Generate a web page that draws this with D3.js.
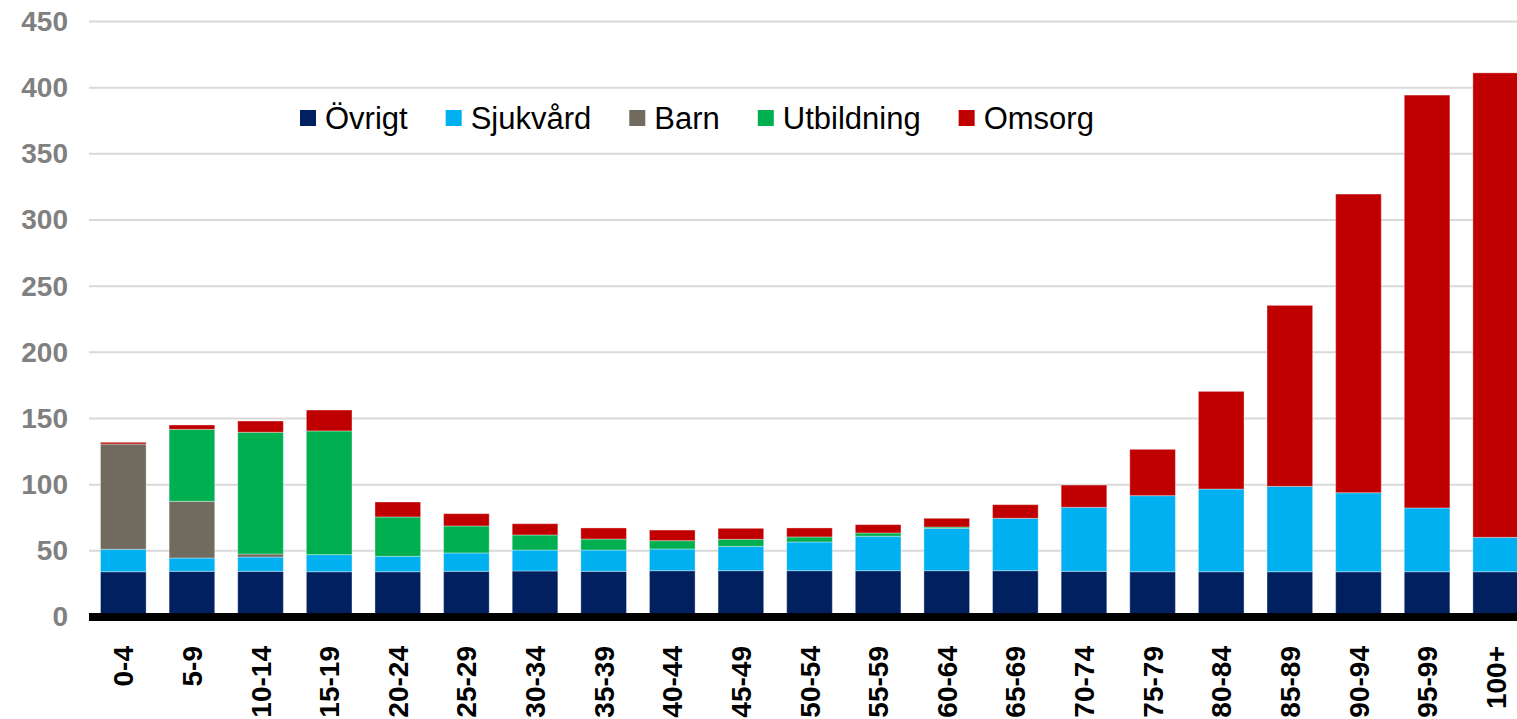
<!DOCTYPE html>
<html>
<head>
<meta charset="utf-8">
<script src="https://cdn.jsdelivr.net/npm/d3@7"></script>
<style>
  body { margin: 0; background: #fff; overflow: hidden; }
  text { font-family: "Liberation Sans", Arial, sans-serif; }
</style>
</head>
<body>
<div id="chart"></div>
<script>
// age groups
const ageGroups = ["0-4", "5-9", "10-14", "15-19", "20-24", "25-29", "30-34", "35-39", "40-44", "45-49",
  "50-54", "55-59", "60-64", "65-69", "70-74", "75-79", "80-84", "85-89", "90-94", "95-99", "100+"];

// series values
const ovrigt     = [34.2, 34.5, 34.5, 34.2, 34.2, 34.5, 34.8, 34.5, 35.0, 35.0, 35.0, 35.0, 35.0, 35.0, 34.5, 34.2, 34.2, 34.2, 34.2, 34.2, 34.2];
const sjukvard   = [17.0, 10.1, 10.8, 12.9, 11.7, 13.9, 15.8, 16.1, 16.4, 18.4, 21.7, 26.0, 32.0, 39.6, 48.4, 57.5, 62.5, 64.5, 59.7, 48.2, 26.0];
const barn       = [79.5, 42.8, 2.3, 0, 0, 0, 0, 0, 0, 0, 0, 0, 0, 0, 0, 0, 0, 0, 0, 0, 0];
const utbildning = [0, 54.4, 92.0, 93.5, 29.7, 20.4, 11.4, 8.3, 6.3, 5.3, 3.8, 2.5, 1.0, 0, 0, 0, 0, 0, 0, 0, 0];
const omsorg     = [1.3, 3.3, 8.5, 15.8, 11.3, 9.3, 8.5, 8.4, 8.0, 8.3, 6.8, 6.3, 6.6, 10.3, 16.8, 35.0, 73.8, 136.8, 225.7, 312.0, 351.0];

const seriesNames = ["Övrigt", "Sjukvård", "Barn", "Utbildning", "Omsorg"];
const seriesColors = ["#002060", "#00b0f0", "#716b5f", "#00b050", "#c00000"];
const yTicks = [0, 50, 100, 150, 200, 250, 300, 350, 400, 450];

const svgWidth = 1517;
const svgHeight = 719;

const svg = d3.select("#chart")
  .append("svg")
  .attr("width", svgWidth)
  .attr("height", svgHeight);

// build table for the stack
const keys = ["ovrigt", "sjukvard", "barn", "utbildning", "omsorg"];
const table = ageGroups.map((g, i) => ({
  group: g,
  ovrigt: ovrigt[i],
  sjukvard: sjukvard[i],
  barn: barn[i],
  utbildning: utbildning[i],
  omsorg: omsorg[i]
}));

const stacked = d3.stack().keys(keys)(table);

// scales - the plot runs off the right edge in the original
const xScale = d3.scaleBand()
  .domain(ageGroups)
  .range([89, 1530])
  .paddingInner(0.335)
  .paddingOuter(0.1675);

const yScale = d3.scaleLinear()
  .domain([0, 450])
  .range([617, 21.5]);

// gridlines
svg.append("g")
  .selectAll("line")
  .data(yTicks.filter(d => d > 0))
  .enter()
  .append("line")
  .attr("x1", 89)
  .attr("x2", svgWidth)
  .attr("y1", d => yScale(d))
  .attr("y2", d => yScale(d))
  .attr("stroke", "#d9d9d9")
  .attr("stroke-width", 2);

// y axis labels
const yAxis = svg.append("g")
  .attr("transform", "translate(68, 0)")
  .call(d3.axisLeft(yScale).tickValues(yTicks).tickSize(0).tickPadding(0));
yAxis.select(".domain").remove();
yAxis.selectAll("text")
  .attr("fill", "#808080")
  .style("font-size", "28px")
  .style("font-weight", "bold")
  .style("font-family", "'Liberation Sans', Arial, sans-serif");

// bars
svg.append("g")
  .selectAll("g")
  .data(stacked)
  .enter()
  .append("g")
  .attr("fill", (d, i) => seriesColors[i])
  .selectAll("rect")
  .data(d => d)
  .enter()
  .append("rect")
  .attr("x", d => xScale(d.data.group))
  .attr("width", xScale.bandwidth())
  .attr("y", d => yScale(d[1]))
  .attr("height", d => Math.max(0, yScale(d[0]) - yScale(d[1])))
  .attr("stroke", "#ffffff")
  .attr("stroke-opacity", 0.35)
  .attr("stroke-width", 1);

// x axis line
svg.append("line")
  .attr("x1", 89)
  .attr("x2", svgWidth)
  .attr("y1", yScale(0))
  .attr("y2", yScale(0))
  .attr("stroke", "#000")
  .attr("stroke-width", 8);

// x axis labels, rotated
const xAxis = svg.append("g")
  .attr("transform", "translate(0, 646)")
  .call(d3.axisBottom(xScale).tickSize(0).tickPadding(0));
xAxis.select(".domain").remove();
xAxis.selectAll("text")
  .attr("transform", "rotate(-90)")
  .attr("x", 0)
  .attr("y", 0)
  .attr("dy", "0.36em")
  .attr("text-anchor", "end")
  .attr("fill", "#000")
  .style("font-size", "28px")
  .style("font-weight", "bold")
  .style("font-family", "'Liberation Sans', Arial, sans-serif");

// legend
const legend = svg.append("g")
  .attr("transform", "translate(300, 0)");

let legendX = 0;
seriesNames.forEach(function(name, i) {
  const item = legend.append("g")
    .attr("transform", `translate(${legendX}, 0)`);
  item.append("rect")
    .attr("x", 0)
    .attr("y", 110)
    .attr("width", 16)
    .attr("height", 16)
    .attr("fill", seriesColors[i]);
  const label = item.append("text")
    .attr("x", 25)
    .attr("y", 129)
    .attr("fill", "#000")
    .style("font-size", "31px")
    .text(name);
  legendX += 25 + label.node().getComputedTextLength() + 38;
});
</script>
</body>
</html>
